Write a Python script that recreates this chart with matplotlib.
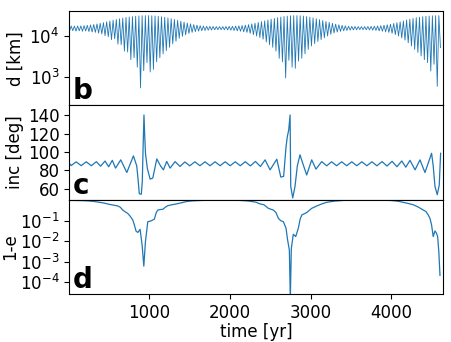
import numpy as np
import matplotlib
matplotlib.use("Agg")
import matplotlib.pyplot as plt
from matplotlib.ticker import NullLocator

# panel b: separation d, per-cycle minima / maxima [10^3 km]
b_lo = [13.0, 13.2, 12.9, 13.1, 12.8, 13.0, 12.6, 12.3, 12.0, 11.5,
        11.0, 10.0, 9.4, 8.0, 8.4, 6.2, 6.0, 4.2, 4.0, 2.6,
        2.9, 1.7, 0.53, 1.4, 2.2, 1.3, 1.5, 2.3, 2.9, 3.6,
        4.3, 5.2, 6.3, 7.3, 8.6, 9.6, 10.5, 11.3, 12.0, 12.5,
        12.9, 13.2, 13.4, 13.6, 13.7, 13.9, 14.0, 14.0, 13.9, 13.8,
        13.6, 13.4, 13.1, 12.8, 12.4, 12.0, 11.4, 10.6, 9.8, 9.0,
        8.2, 7.0, 6.0, 5.2, 4.2, 2.8, 2.3, 0.93, 2.5, 1.7,
        1.6, 2.4, 2.8, 3.6, 4.6, 5.6, 6.4, 7.2, 8.0, 8.8,
        9.8, 10.8, 11.6, 12.2, 12.7, 13.1, 13.4, 13.6, 13.8, 13.9,
        14.0, 14.0, 13.9, 13.8, 13.6, 13.4, 13.1, 12.8, 12.4, 12.0,
        11.4, 10.6, 9.8, 8.8, 7.8, 6.7, 5.6, 4.6, 3.9, 3.2,
        2.6, 2.2, 1.37, 2.0, 0.58, 5.1]
b_hi = [17.2, 17.1, 17.2, 17.3, 17.5, 17.8, 18.2, 18.7, 19.3, 20.0,
        20.8, 21.8, 22.8, 23.8, 24.8, 25.8, 26.8, 27.7, 28.5, 29.2,
        29.8, 30.3, 30.6, 30.8, 30.8, 30.6, 30.2, 29.6, 28.9, 28.0,
        27.0, 25.9, 24.8, 23.6, 22.4, 21.3, 20.3, 19.4, 18.6, 18.0,
        17.5, 17.1, 16.9, 16.8, 16.7, 16.6, 16.6, 16.6, 16.7, 16.8,
        16.9, 17.1, 17.3, 17.6, 18.0, 18.6, 19.3, 20.1, 21.0, 22.0,
        23.0, 24.1, 25.2, 26.3, 27.4, 28.4, 29.3, 30.0, 30.5, 30.8,
        30.8, 30.5, 30.0, 29.2, 28.2, 27.1, 25.9, 24.6, 23.3, 22.1,
        21.0, 20.0, 19.1, 18.4, 17.8, 17.3, 17.0, 16.8, 16.7, 16.6,
        16.6, 16.6, 16.7, 16.8, 17.0, 17.2, 17.5, 17.9, 18.4, 19.0,
        19.8, 20.7, 21.7, 22.8, 24.0, 25.2, 26.3, 27.3, 28.2, 29.0,
        29.6, 30.1, 30.4, 30.6, 30.7]

# panel c: inclination [deg]
inc_t = [5, 30, 92, 155, 217, 280, 342, 395, 450, 495, 540, 580, 645, 720,
         802, 843, 860, 875, 900, 912, 922, 933, 942, 952, 975, 1009, 1042,
         1092, 1141, 1174, 1215, 1257, 1319, 1380, 1440, 1500, 1565, 1627,
         1690, 1752, 1815, 1877, 1940, 2002, 2065, 2127, 2190, 2252, 2315,
         2377, 2435, 2497, 2580, 2630, 2665, 2695, 2711, 2728, 2745, 2753,
         2778, 2806, 2835, 2868, 2901, 2951, 3013, 3066, 3137, 3199, 3260,
         3322, 3385, 3447, 3510, 3572, 3635, 3697, 3760, 3822, 3885, 3947,
         4010, 4070, 4130, 4180, 4232, 4295, 4356, 4418, 4500, 4520, 4542,
         4570, 4595, 4612]
inc_v = [87.8, 85.3, 89.3, 85.2, 89.4, 85.1, 89.5, 84.6, 90.2, 84.0, 91.0,
         82.5, 91.5, 77.7, 95.8, 85.0, 70.0, 54.5, 54.0, 68.0, 105.0, 140.5,
         118.0, 98.0, 82.0, 70.5, 71.6, 92.5, 84.5, 80.6, 89.8, 82.5, 89.6,
         84.3, 89.2, 85.0, 89.4, 85.1, 89.4, 85.1, 89.4, 85.1, 89.4, 85.1,
         89.4, 85.1, 89.5, 84.9, 89.8, 84.3, 91.5, 80.6, 92.2, 72.7, 73.5,
         106.0, 117.0, 124.0, 140.5, 62.5, 50.0, 62.5, 85.0, 97.0, 88.0,
         75.0, 91.5, 81.4, 89.6, 85.0, 89.4, 85.1, 89.4, 85.1, 89.4, 85.1,
         89.4, 85.1, 89.4, 85.0, 89.6, 84.8, 89.9, 84.0, 90.3, 83.5, 91.0,
         80.6, 91.5, 77.7, 98.7, 85.0, 62.5, 53.5, 64.0, 98.7]

# panel d: 1-e
ecc_t = [5, 100, 200, 300, 380, 440, 500, 560, 610, 640, 670, 700, 730,
         760, 795, 815, 835, 857, 885, 910, 931, 951, 980, 1020, 1062, 1085,
         1105, 1135, 1167, 1200, 1228, 1280, 1330, 1400, 1455, 1530, 1620,
         1700, 1800, 1900, 2000, 2100, 2200, 2250, 2320, 2372, 2420, 2476,
         2537, 2570, 2600, 2630, 2662, 2695, 2711, 2736, 2748, 2760, 2785,
         2815, 2847, 2870, 2890, 2951, 3013, 3075, 3140, 3200, 3300, 3405,
         3500, 3600, 3700, 3800, 3900, 3985, 4050, 4108, 4190, 4273, 4340,
         4397, 4430, 4459, 4480, 4500, 4520, 4542, 4560, 4575, 4590, 4604]
ecc_v = [0.97, 0.96, 0.94, 0.88, 0.79, 0.72, 0.63, 0.57, 0.52, 0.45, 0.33,
         0.27, 0.23, 0.17, 0.107, 0.06, 0.031, 0.027, 0.038, 0.0065, 0.00062,
         0.0095, 0.089, 0.098, 0.12, 0.25, 0.33, 0.35, 0.36, 0.46, 0.54,
         0.60, 0.65, 0.75, 0.85, 0.92, 0.96, 0.98, 0.99, 0.99, 0.99, 0.98,
         0.93, 0.88, 0.80, 0.66, 0.60, 0.40, 0.33, 0.25, 0.13, 0.10, 0.089,
         0.043, 0.014, 0.0037, 1.5e-5, 0.0044, 0.022, 0.017, 0.043, 0.12,
         0.19, 0.25, 0.40, 0.52, 0.66, 0.79, 0.90, 0.97, 0.99, 0.99, 0.99,
         0.99, 0.99, 0.97, 0.92, 0.85, 0.72, 0.60, 0.45, 0.33, 0.28, 0.19,
         0.13, 0.062, 0.017, 0.032, 0.025, 0.017, 0.003, 0.00022]

# interleave minima / maxima of each cycle (40 yr)
t_lo = 10 + 40 * np.arange(len(b_lo))
t_hi = 30 + 40 * np.arange(len(b_hi))
t_b = np.empty(len(t_lo) + len(t_hi))
d_b = np.empty(len(t_b))
t_b[0::2], t_b[1::2] = t_lo, t_hi
d_b[0::2], d_b[1::2] = np.array(b_lo) * 1e3, np.array(b_hi) * 1e3

fig, axes = plt.subplots(3, 1, sharex=True, figsize=(4.52, 3.42), dpi=100)
fig.subplots_adjust(left=0.153, right=0.980, top=0.968, bottom=0.140, hspace=0)
lw = 0.9
fs = 12

ax = axes[0]
ax.plot(t_b, d_b, color="C0", lw=0.6)
ax.set_yscale("log")
ax.set_ylim(200, 4.0e4)
ax.set_yticks([1e3, 1e4])
ax.set_ylabel("d [km]", fontsize=fs)
ax.yaxis.set_label_coords(-0.12, 0.5)

ax = axes[1]
ax.plot(inc_t, inc_v, color="C0", lw=lw)
ax.set_ylim(48, 151)
ax.set_yticks([60, 80, 100, 120, 140])
ax.set_ylabel("inc [deg]", fontsize=fs)
ax.yaxis.set_label_coords(-0.12, 0.5)

ax = axes[2]
ax.plot(ecc_t, ecc_v, color="C0", lw=lw)
ax.set_yscale("log")
ax.set_ylim(2.7e-5, 1.05)
ax.set_yticks([1e-4, 1e-3, 1e-2, 1e-1])
ax.set_ylabel("1-e", fontsize=fs)
ax.yaxis.set_label_coords(-0.134, 0.5)
ax.set_xlabel("time [yr]", fontsize=fs, labelpad=1)
ax.set_xlim(5, 4641)
ax.set_xticks([1000, 2000, 3000, 4000])

for ax, letter in zip(axes, "bcd"):
    ax.tick_params(labelsize=fs)
    ax.yaxis.set_minor_locator(NullLocator())
    ax.text(0.01, 0.065, letter, transform=ax.transAxes, fontsize=20,
            fontweight="bold", va="baseline")

fig.savefig("out.png", dpi=100)
